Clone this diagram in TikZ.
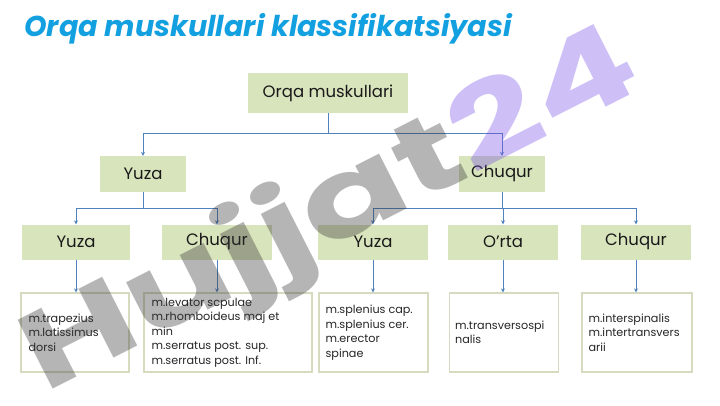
\documentclass[tikz,border=0pt]{standalone}
\usepackage{fontspec}
\setmainfont{Poppins}
\usetikzlibrary{arrows.meta}
\definecolor{boxgreen}{HTML}{D8E4BC}
\definecolor{lineblue}{HTML}{4F81BD}
\definecolor{titleblue}{HTML}{12A0E0}
\definecolor{leafborder}{HTML}{D6DBC0}
\definecolor{wmgray}{RGB}{50,50,50}
\definecolor{wmviolet}{RGB}{120,80,230}
\tikzset{
  catbox/.style={fill=boxgreen, draw=none, inner sep=0pt, font=\fontsize{16.5}{18}\selectfont, text=black!90},
  leafbox/.style={fill=white, draw=leafborder, line width=1.2pt, inner sep=0pt},
  leaftext/.style={anchor=west, align=left, inner sep=0pt, font=\fontsize{11.2}{14.5}\selectfont, text=black!85},
  conn/.style={draw=lineblue, line width=0.8pt},
  arr/.style={conn, -{Stealth[length=4pt,width=4pt]}},
}
\begin{document}
\begin{tikzpicture}[x=1pt, y=-1pt]
\useasboundingbox (0,0) rectangle (720,405);
% title
\node[anchor=base west, inner sep=0pt, text=titleblue, font=\fontsize{28.7}{31}\selectfont\bfseries\itshape] (title) at (24,36) {Orqa muskullari klassifikatsiyasi};
% level 1
\node[catbox, minimum width=160pt, minimum height=40pt] (root) at (328,93) {Orqa muskullari};
% level 2
\node[catbox, minimum width=86pt, minimum height=36pt] (ya) at (143,174) {Yuza};
\node[catbox, minimum width=86pt, minimum height=36pt] (cb) at (502,174) {Chuqur};
% level 3
\node[catbox, minimum width=108pt, minimum height=35pt] (y1) at (76,242) {Yuza};
\node[catbox, minimum width=110pt, minimum height=35pt] (c1) at (217,242) {Chuqur};
\node[catbox, minimum width=110pt, minimum height=35pt] (y2) at (373,242) {Yuza};
\node[catbox, minimum width=110pt, minimum height=35pt] (o2) at (503,242) {O'rta};
\node[catbox, minimum width=110pt, minimum height=35pt] (c2) at (636,242) {Chuqur};
% level 4
\node[leafbox, minimum width=108pt, minimum height=79pt] (l1) at (75,332.5) {};
\node[leafbox, minimum width=168pt, minimum height=79pt] (l2) at (228,332.5) {};
\node[leafbox, minimum width=109pt, minimum height=79pt] (l3) at (373.5,332.5) {};
\node[leafbox, minimum width=109pt, minimum height=79pt] (l4) at (504,332.5) {};
\node[leafbox, minimum width=110pt, minimum height=79pt] (l5) at (637,332.5) {};
\node[leaftext] (t1) at ([xshift=8pt]l1.west) {m.trapezius\\m.latissimus\\dorsi};
\node[leaftext] (t2) at ([xshift=8pt]l2.west) {m.levator scpulae\\m.rhomboideus maj et\\min\\m.serratus post. sup.\\m.serratus post. Inf.};
\node[leaftext] (t3) at ([xshift=7pt]l3.west) {m.splenius cap.\\m.splenius cer.\\m.erector\\spinae};
\node[leaftext] (t4) at ([xshift=6pt]l4.west) {m.transversospi\\nalis};
\node[leaftext] (t5) at ([xshift=7pt]l5.west) {m.interspinalis\\m.intertransvers\\arii};
% bus coordinates
\coordinate (b1) at (328,133);
\coordinate (b2) at (143,208);
\coordinate (b3) at (502,208);
% connectors level 1 -> 2
\draw[conn] (root.south) -- (b1);
\draw[conn] (ya.north |- b1) -- (cb.north |- b1);
\draw[arr] (ya.north |- b1) -- (ya.north);
\draw[arr] (cb.north |- b1) -- (cb.north);
% level 2 -> 3
\draw[conn] (ya.south) -- (b2);
\draw[conn] (y1.north |- b2) -- (c1.north |- b2);
\draw[arr] (y1.north |- b2) -- (y1.north);
\draw[arr] (c1.north |- b2) -- (c1.north);
\draw[conn] (cb.south) -- (b3);
\draw[conn] (y2.north |- b3) -- (c2.north |- b3);
\draw[arr] (y2.north |- b3) -- (y2.north);
\draw[arr] (o2.north |- b3) -- (o2.north);
\draw[arr] (c2.north |- b3) -- (c2.north);
% level 3 -> 4
\draw[arr] (y1.south) -- (y1.south |- l1.north);
\draw[arr] (c1.south) -- (c1.south |- l2.north);
\draw[arr] (y2.south) -- (y2.south |- l3.north);
\draw[arr] (o2.south) -- (o2.south |- l4.north);
\draw[arr] (c2.south) -- (c2.south |- l5.north);
% watermark
\node[rotate=27, inner sep=0pt, text opacity=0.36, font=\fontsize{110}{110}\selectfont\bfseries] (wm) at (332,214)
  {\scalebox{1.42}[1]{\textcolor{wmgray}{Hujjat}\textcolor{wmviolet}{24}}};
\end{tikzpicture}
\end{document}
